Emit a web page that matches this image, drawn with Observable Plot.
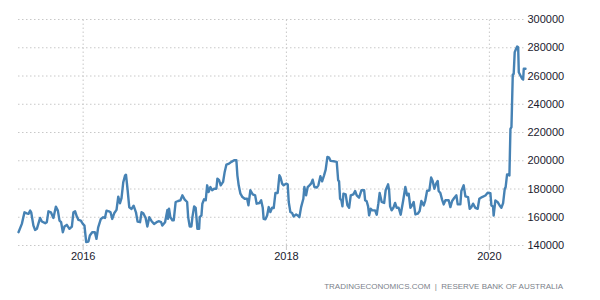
<!DOCTYPE html>
<html>
<head>
<meta charset="utf-8">
<script src="https://cdn.jsdelivr.net/npm/d3@7"></script>
<script src="https://cdn.jsdelivr.net/npm/@observablehq/plot@0.6"></script>
<style>
  html, body { margin: 0; padding: 0; background: #fff; }
  #chart svg { display: block; }
  #caption { font-family: "Liberation Sans", Arial, sans-serif; font-size: 8px; color: #7b7f8a; text-align: right; padding-right: 37px; line-height: 13px; }
</style>
</head>
<body>
<div id="chart"></div>
<div id="caption">TRADINGECONOMICS.COM&nbsp; | &nbsp;RESERVE BANK OF AUSTRALIA</div>
<script>
// decimal-year time stamps
const years = [
  2015.363,2015.396,2015.422,2015.445,2015.461,2015.478,2015.488,2015.510,2015.527,2015.544,
  2015.576,2015.593,2015.626,2015.642,2015.658,2015.682,2015.707,2015.731,2015.751,2015.767,
  2015.783,2015.800,2015.816,2015.839,2015.865,2015.889,2015.904,2015.921,2015.938,2015.954,
  2015.977,2015.997,2016.013,2016.030,2016.052,2016.066,2016.089,2016.115,2016.131,2016.148,
  2016.174,2016.197,2016.214,2016.230,2016.253,2016.269,2016.286,2016.305,2016.328,2016.345,
  2016.362,2016.377,2016.394,2016.411,2016.421,2016.436,2016.453,2016.476,2016.496,2016.519,
  2016.535,2016.559,2016.574,2016.591,2016.614,2016.631,2016.650,2016.673,2016.697,2016.722,
  2016.746,2016.766,2016.778,2016.805,2016.828,2016.834,2016.844,2016.857,2016.877,2016.890,
  2016.909,2016.933,2016.956,2016.975,2016.998,2017.022,2017.032,2017.047,2017.064,2017.074,
  2017.091,2017.106,2017.123,2017.140,2017.146,2017.163,2017.172,2017.189,2017.205,2017.219,
  2017.234,2017.251,2017.268,2017.288,2017.310,2017.320,2017.337,2017.353,2017.376,2017.392,
  2017.409,2017.435,2017.458,2017.485,2017.507,2017.517,2017.530,2017.547,2017.567,2017.589,
  2017.613,2017.626,2017.645,2017.668,2017.692,2017.707,2017.734,2017.751,2017.767,2017.776,
  2017.793,2017.810,2017.826,2017.842,2017.859,2017.875,2017.892,2017.914,2017.931,2017.941,
  2017.958,2017.973,2017.997,2018.013,2018.023,2018.039,2018.056,2018.072,2018.096,2018.111,
  2018.128,2018.145,2018.167,2018.177,2018.194,2018.210,2018.227,2018.243,2018.259,2018.276,
  2018.299,2018.315,2018.335,2018.352,2018.371,2018.387,2018.404,2018.421,2018.436,2018.470,
  2018.496,2018.510,2018.519,2018.529,2018.542,2018.552,2018.562,2018.584,2018.601,2018.618,
  2018.634,2018.660,2018.677,2018.693,2018.716,2018.739,2018.766,2018.776,2018.791,2018.805,
  2018.815,2018.831,2018.847,2018.874,2018.890,2018.906,2018.919,2018.939,2018.963,2018.978,
  2019.002,2019.012,2019.022,2019.037,2019.054,2019.071,2019.087,2019.106,2019.126,2019.150,
  2019.172,2019.189,2019.205,2019.222,2019.238,2019.254,2019.271,2019.294,2019.313,2019.330,
  2019.353,2019.369,2019.386,2019.409,2019.426,2019.441,2019.458,2019.475,2019.491,2019.500,
  2019.517,2019.534,2019.550,2019.567,2019.599,2019.616,2019.633,2019.655,2019.675,2019.688,
  2019.714,2019.724,2019.747,2019.764,2019.790,2019.806,2019.823,2019.839,2019.862,2019.885,
  2019.901,2019.928,2019.961,2019.983,2020.010,2020.020,2020.036,2020.042,2020.059,2020.082,
  2020.101,2020.118,2020.135,2020.151,2020.160,2020.174,2020.197,2020.207,2020.217,2020.230,
  2020.239,2020.249,2020.256,2020.273,2020.283,2020.289,2020.305,2020.322,2020.332,2020.338,
  2020.355
];
const values = [
  149400,155300,163500,162800,162400,164700,163500,154100,151000,151800,
  159500,157000,155800,156500,164200,163500,159500,167500,164700,157600,
  156500,149400,153400,154600,151800,153400,163500,164200,160500,158100,
  157600,155300,154100,142400,142800,147100,149400,149400,144700,152900,
  158800,160000,159500,164700,164200,163500,158800,162800,165200,174600,
  169900,173600,184700,189400,190100,180000,167100,165900,168200,163500,
  156900,156500,163500,162800,159500,153400,160000,157200,155300,156500,
  157200,156500,154100,156500,165200,158900,166000,160100,157800,157800,
  170800,171500,172000,175500,172500,170800,160100,153500,153500,160100,
  167700,166700,151800,151800,160100,161300,169600,172700,172000,182600,
  177900,181400,179100,180200,180200,187300,186200,182600,185000,192100,
  197300,198000,199200,200400,200400,189700,182600,176700,174300,173100,
  173100,168400,179100,176200,175500,169600,170100,172000,166700,158900,
  158500,161300,167200,163700,166700,166500,177200,177200,189700,188500,
  183800,182600,183800,183300,170800,163700,163000,160600,162000,161300,
  160100,167200,173100,181400,175500,181400,182600,183800,186600,181400,
  181000,182600,189000,185400,189700,193700,202700,202200,199900,199600,
  199200,186200,185400,173100,172000,167700,176700,176200,168400,166700,
  175500,176200,178600,175500,173800,179100,179100,172000,171300,167700,
  161300,166000,164900,164900,161800,169600,177200,170800,170100,179100,
  183300,179100,167700,164900,166700,170100,166700,166700,161800,171500,
  181400,175500,176700,166700,168400,170800,162000,162500,164400,171500,
  168400,172000,178600,179100,188100,185700,180200,183800,185700,178600,
  177200,172500,169100,172000,172000,167200,171500,173800,175500,169100,
  169100,178600,182600,174800,174300,166000,167200,169600,166700,166000,
  173100,174300,175400,177300,177100,168300,167600,161200,171900,170700,
  168300,166700,170000,180100,181300,190300,189600,222600,223800,261100,
  261500,276900,278100,280900,280400,262700,260400,258000,257500,265100,
  265100
];
const yTicks = [140000,160000,180000,200000,220000,240000,260000,280000,300000];
const xTickYears = [2016, 2018, 2020];

function decToDate(y) {
  const yr = Math.floor(y);
  const s = Date.UTC(yr, 0, 1), e = Date.UTC(yr + 1, 0, 1);
  return new Date(s + (y - yr) * (e - s));
}
const data = years.map((y, i) => ({date: decToDate(y), value: values[i]}));
const xTicks = xTickYears.map(y => new Date(Date.UTC(y, 0, 1)));

const chart = Plot.plot({
  width: 600,
  height: 280,
  marginLeft: 18,
  marginRight: 75,
  marginTop: 19,
  marginBottom: 35,
  style: {fontFamily: "'Liberation Sans', Arial, sans-serif", fontSize: "11px", color: "#1a1a2e", background: "#fff"},
  x: {type: "utc", domain: [data[0].date, data[data.length - 1].date]},
  y: {domain: [140000, 300000]},
  marks: [
    Plot.gridY(yTicks, {stroke: "#c8c8c8", strokeOpacity: 1, strokeDasharray: "1.5,2.5"}),
    Plot.gridX(xTicks, {stroke: "#c8c8c8", strokeOpacity: 1, strokeDasharray: "1.5,2.5", y1: 140000, y2: 300000}),
    Plot.axisY(yTicks, {anchor: "right", tickSize: 0, tickPadding: 2, tickFormat: d => String(d), label: null, fontSize: 11}),
    Plot.axisX(xTicks, {anchor: "bottom", tickSize: 5, stroke: "#c8c8c8", tickPadding: 2, tickFormat: d3.utcFormat("%Y"), label: null, fontSize: 11}),
    Plot.line(data, {x: "date", y: "value", stroke: "#4682b4", strokeWidth: 2.4, strokeLinejoin: "round"})
  ]
});
document.getElementById("chart").appendChild(chart);
</script>
</body>
</html>
